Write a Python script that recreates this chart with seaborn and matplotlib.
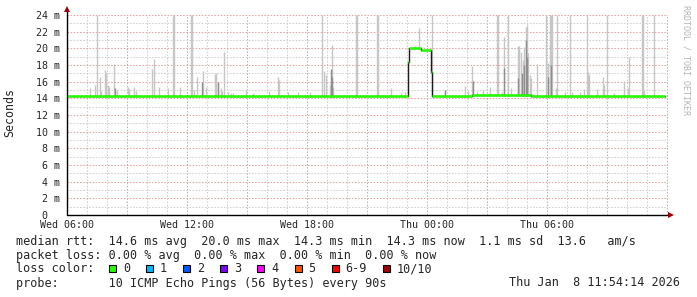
import numpy as np
import pandas as pd
import matplotlib
matplotlib.use("Agg")
import matplotlib.pyplot as plt
import seaborn as sns
from matplotlib.patches import Rectangle
from matplotlib.ticker import MultipleLocator, FixedLocator, FixedFormatter

# ---------------- data ----------------
# hours since Wed 06:00 ; values in ms
smoke_hours = [1.15, 1.40, 1.50, 1.65, 1.70, 1.90, 1.95, 2.05, 2.10, 2.35, 2.50,
               3.05, 3.10, 3.35, 3.45, 4.25, 4.35, 4.60, 5.05, 5.30, 5.35, 5.65,
               6.20, 6.25, 6.35, 6.50, 6.80, 6.95, 7.40, 7.45, 7.55, 7.70, 7.75,
               7.85, 8.05, 8.20, 8.30, 8.95, 9.30, 10.10, 10.55, 10.60, 11.05,
               11.55, 12.15, 12.75, 12.85, 12.95, 13.15, 13.25, 13.30, 14.45,
               14.50, 15.50, 15.55, 16.20, 16.70, 16.90, 17.40, 17.60, 18.25,
               18.90, 19.90, 20.05, 20.25, 20.50, 20.80, 21.15, 21.50, 21.55,
               21.75, 21.85, 22.05, 22.20, 22.55, 22.60, 22.70, 22.80, 22.85,
               22.95, 23.00, 23.05, 23.15, 23.20, 23.50, 23.95, 24.05, 24.15,
               24.20, 24.25, 24.45, 24.50, 24.90, 25.15, 25.25, 25.65, 25.85,
               26.00, 26.05, 26.10, 26.50, 26.80, 26.85, 27.00, 27.35, 27.85,
               28.05, 28.10, 28.75, 28.80, 28.85, 29.35]
smoke_top = [15.2, 15.6, 24.0, 16.6, 14.9, 17.4, 17.0, 15.6, 15.4, 18.1, 15.0,
             15.4, 15.1, 15.3, 14.9, 17.5, 18.7, 15.4, 15.2, 24.0, 24.0, 15.3,
             24.0, 24.0, 15.0, 16.5, 17.3, 15.3, 16.9, 17.0, 16.0, 15.2, 14.9,
             19.6, 14.8, 14.6, 14.6, 15.0, 14.6, 14.9, 16.6, 16.2, 14.8,
             14.8, 14.8, 24.0, 17.3, 16.8, 15.6, 20.4, 15.4, 24.0,
             24.0, 24.0, 24.0, 15.2, 14.6, 14.8, 20.3, 22.4, 24.0,
             15.0, 15.5, 14.9, 17.9, 14.8, 15.0, 15.4, 24.0, 24.0,
             14.8, 21.4, 24.0, 15.2, 20.3, 20.3, 19.6, 18.6, 20.2,
             22.6, 22.8, 19.4, 16.8, 16.4, 18.1, 24.0, 18.2, 24.0,
             24.0, 24.0, 15.2, 24.0, 14.8, 24.0, 14.8, 14.8, 15.1,
             24.0, 17.2, 16.8, 15.1, 16.6, 15.6, 24.0, 14.6, 16.1,
             15.2, 19.0, 24.0, 24.0, 15.0, 24.0]
dark_hours = [2.40, 6.75, 7.55, 13.20, 13.25, 18.90, 20.30, 21.85, 22.55,
              22.75, 22.85, 22.95, 23.00, 24.05, 24.20]
dark_top = [15.2, 16.0, 16.0, 17.5, 16.5, 15.0, 16.1, 17.6, 16.4,
            17.0, 18.0, 21.0, 19.0, 16.5, 18.0]
median_hours = [0.0, 17.05, 17.10, 17.70, 18.20, 18.25, 20.25, 23.20, 29.90]
median_ms = [14.3, 18.4, 20.0, 19.8, 17.2, 14.3, 14.4, 14.3, 14.3]

x_tick_hours = [0, 3, 6, 9, 12, 15, 18, 21, 24, 27, 30]
x_tick_labels = ["Wed 06:00", "", "Wed 12:00", "", "Wed 18:00", "",
                 "Thu 00:00", "", "Thu 06:00", "", ""]
y_ticks = [0, 2, 4, 6, 8, 10, 12, 14, 16, 18, 20, 22, 24]
y_tick_labels = ["0  ", "2 m", "4 m", "6 m", "8 m", "10 m", "12 m", "14 m",
                 "16 m", "18 m", "20 m", "22 m", "24 m"]

loss_labels = ["0", "1", "2", "3", "4", "5", "6-9", "10/10"]
loss_colors = ["#26ff00", "#00b8ff", "#0059ff", "#7e00ff", "#ff00ff",
               "#ff5500", "#ff0000", "#a10000"]

rtt_line = ("median rtt:  14.6 ms avg  20.0 ms max  14.3 ms min  "
            "14.3 ms now  1.1 ms sd  13.6   am/s")
loss_line = "packet loss: 0.00 % avg  0.00 % max  0.00 % min  0.00 % now"
color_head = "loss color:"
probe_line = "probe:       10 ICMP Echo Pings (56 Bytes) every 90s"
date_text = "Thu Jan  8 11:54:14 2026"

# ---------------- figure ----------------
sns.set_style("white")
plt.rcParams['font.family'] = ['DejaVu Sans Mono', 'DejaVu Sans']

W, H = 697, 297
fig = plt.figure(figsize=(W / 100, H / 100), dpi=100)
fig.patch.set_facecolor("white")
ax = fig.add_axes([67 / W, (H - 215) / H, 601 / W, 200 / H])
ax.set_facecolor("white")

ax.set_xlim(0, 30.05)
ax.set_ylim(0, 24)

# grid
red_grid = "#e4a4a4"
gray_grid = "#d0d0d0"
ax.xaxis.set_major_locator(FixedLocator(x_tick_hours))
ax.xaxis.set_major_formatter(FixedFormatter(x_tick_labels))
ax.xaxis.set_minor_locator(MultipleLocator(1))
ax.yaxis.set_major_locator(FixedLocator(y_ticks))
ax.yaxis.set_major_formatter(FixedFormatter(y_tick_labels))
ax.yaxis.set_minor_locator(MultipleLocator(1))
ax.grid(which="major", color=red_grid, linestyle=(0, (1.5, 1.5)), linewidth=0.75)
ax.grid(which="minor", color=gray_grid, linestyle=(0, (1.5, 1.5)), linewidth=0.75)
ax.set_axisbelow(True)

ax.tick_params(axis="both", which="major", length=2.2, width=0.75,
               color=red_grid, labelsize=7.2, pad=3)
ax.tick_params(axis="both", which="minor", length=0)
ax.tick_params(axis="x", which="major", pad=1.5)

# smoke
mh = np.array(median_hours)
mv = np.array(median_ms)
def base_at(t):
    idx = np.searchsorted(mh, t, side="right") - 1
    return mv[np.clip(idx, 0, len(mv) - 1)] - 0.1

st = np.array(smoke_hours)
ax.vlines(st, base_at(st), smoke_top, color="#c6c6c6", linewidth=1.0, zorder=2)
dt = np.array(dark_hours)
ax.vlines(dt, base_at(dt), dark_top, color="#8e8e8e", linewidth=1.0, zorder=2.5)

# median line: black steps + green loss-colored segments
med = pd.DataFrame({"hours": median_hours, "ms": median_ms})
sns.lineplot(data=med, x="hours", y="ms", drawstyle="steps-post",
             color="#1a1a1a", linewidth=1.0, ax=ax, zorder=3)
ax.hlines(mv[:-1], mh[:-1], mh[1:], color=loss_colors[0], linewidth=1.8,
          zorder=4)

ax.set_xlabel("")
ax.set_ylabel("")

# axes lines & arrows
for s in ax.spines.values():
    s.set_visible(False)
ax.plot([0, 0], [0, 1.025], transform=ax.transAxes, color="black",
        linewidth=1.0, clip_on=False, zorder=5)
ax.plot([0, 1.003], [0, 0], transform=ax.transAxes, color="black",
        linewidth=1.0, clip_on=False, zorder=5)
ax.plot([0], [1.028], transform=ax.transAxes, marker="^", markersize=4.5,
        color="#a00000", clip_on=False, zorder=6, markeredgewidth=0)
ax.plot([1.005], [0], transform=ax.transAxes, marker=">", markersize=4.5,
        color="#a00000", clip_on=False, zorder=6, markeredgewidth=0)

# y label
fig.text(10 / W, 1 - 113 / H, "Seconds", rotation=90, ha="center",
         va="center", fontsize=8.4)

# watermark
fig.text(686 / W, 1 - 5 / H, "RRDTOOL / TOBI OETIKER", rotation=270,
         ha="center", va="top", fontsize=6.0, color="#b4b4b4")

# legend block
fs = 8.45
def ftext(x, y, s, **kw):
    fig.text(x / W, 1 - y / H, s, va="center", fontsize=fs, **kw)

ftext(16, 241, rtt_line)
ftext(16, 255, loss_line)
ftext(16, 269, color_head)
sx = 109
for lab, col in zip(loss_labels, loss_colors):
    fig.add_artist(Rectangle((sx / W, 1 - 271.5 / H), 7 / W, 7 / H,
                             transform=fig.transFigure, facecolor=col,
                             edgecolor="black", linewidth=0.8))
    ftext(sx + 14, 269, lab)
    sx += 30 + 7.1 * len(lab)
ftext(16, 283, probe_line)
fig.text(680 / W, 1 - 283 / H, date_text, va="center", ha="right", fontsize=fs)

fig.savefig("out.png", dpi=100, facecolor="white")
